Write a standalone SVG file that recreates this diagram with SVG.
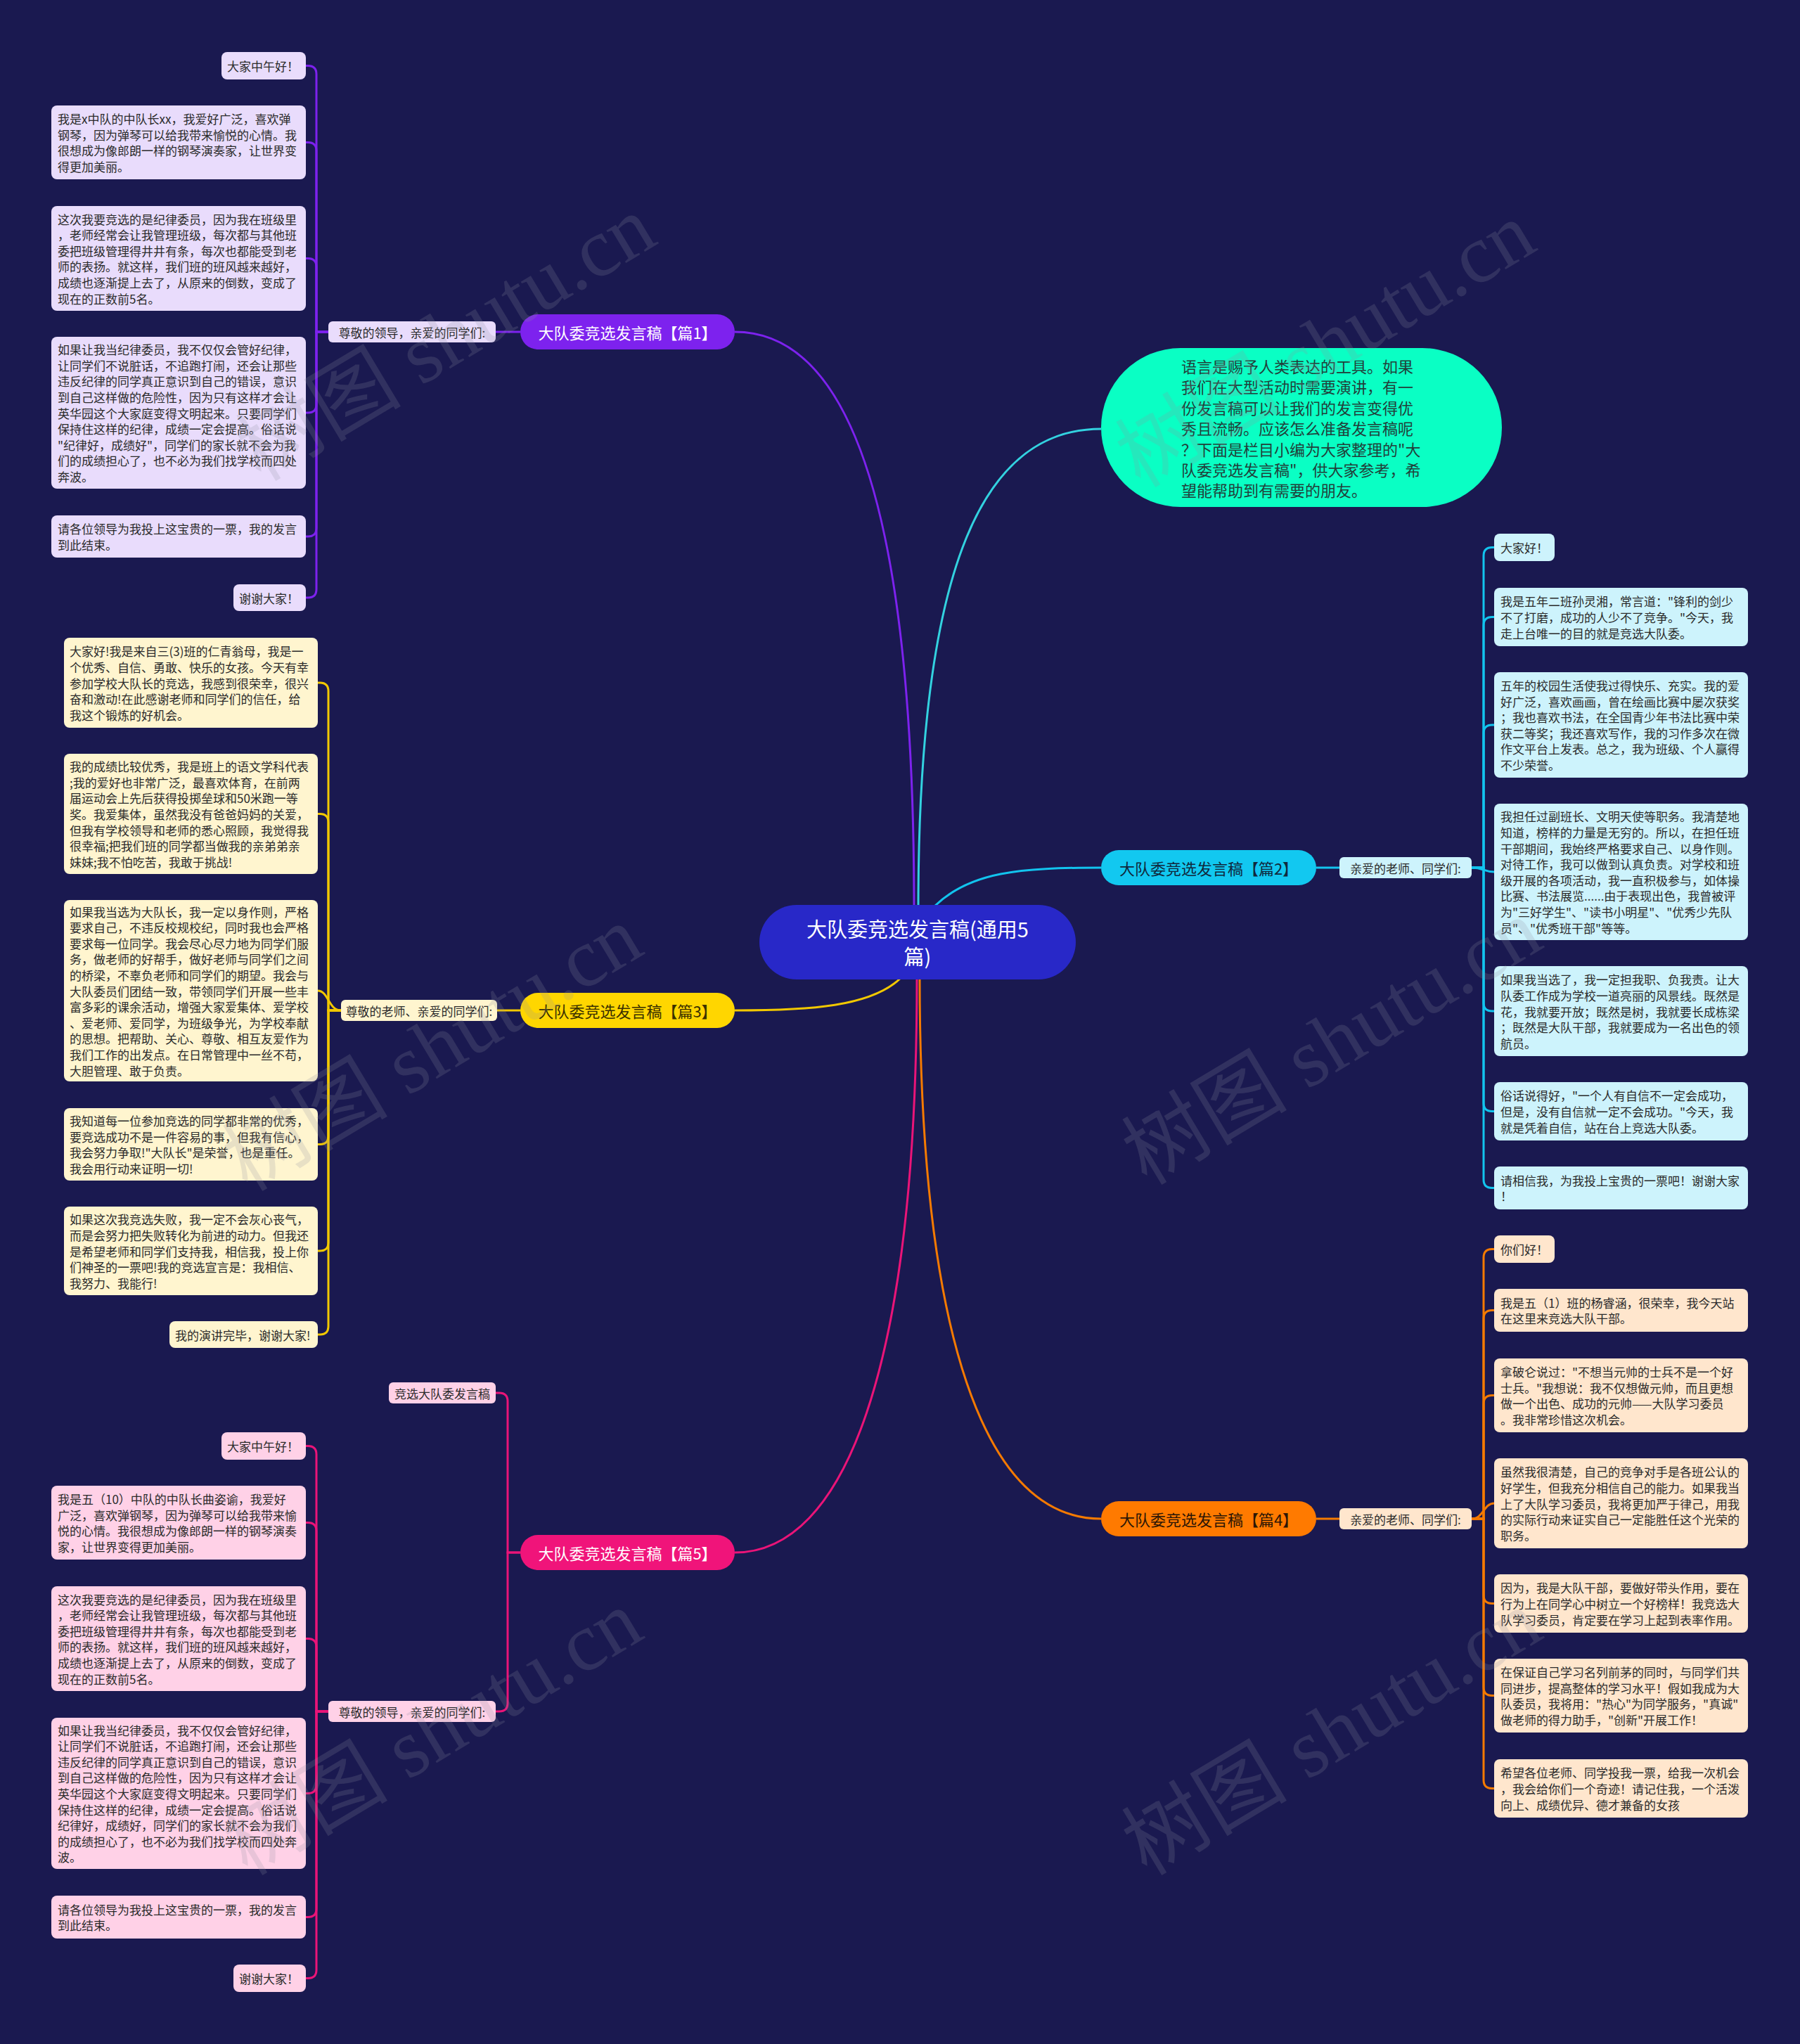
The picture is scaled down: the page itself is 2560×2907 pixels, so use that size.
<svg xmlns="http://www.w3.org/2000/svg" width="2560" height="2907" viewBox="0 0 2560 2907">
<style>
text{font-family:"Noto Sans CJK SC","Noto Sans",sans-serif}
.lt{font-size:17px;dominant-baseline:central}
.nt{font-size:22px;text-anchor:middle;dominant-baseline:central}
.lb{font-size:17px;text-anchor:middle;dominant-baseline:central}
.wm{font-family:"Liberation Serif","Noto Sans CJK SC",serif;font-size:118px;fill:#9090a0;opacity:.2}
.c{fill:none;stroke-width:3}
.cP{stroke:#7d22ee}.cY{stroke:#f2c800}.cK{stroke:#ea1478}.cC{stroke:#12c4ee}.cO{stroke:#f57a00}.cI{stroke:#33d2e0}
.fP{fill:#e9dcfc}.fY{fill:#fff5cf}.fK{fill:#ffd1e7}.fC{fill:#cdf3fc}.fO{fill:#ffe6cd}
.tx{fill:#2b2b2b}
</style>
<rect width="2560" height="2907" fill="#1a1950"/>

<g id="connectors">
<path class="c cP" d="M1300 1292 C1300 700 1200 472 1045 472"/>
<path class="c cI" d="M1306 1292 C1306 800 1400 610 1566 610"/>
<path class="c cC" d="M1330 1288 C1380 1240 1450 1234 1566 1234"/>
<path class="c cY" d="M1282 1390 C1240 1432 1150 1437 1045 1437"/>
<path class="c cO" d="M1308 1390 C1308 1900 1400 2160 1566 2160"/>
<path class="c cK" d="M1304 1390 C1304 1950 1200 2208 1045 2208"/>
<path class="c cP" d="M740 472 H705"/>
<path class="c cY" d="M740 1437 H707"/>
<path class="c cC" d="M1872 1234 H1905"/>
<path class="c cO" d="M1872 2160 H1905"/>
<path class="c cK" d="M740 2208 H722 V1993 Q722 1981 710 1981 H705"/>
<path class="c cK" d="M740 2208 H722 V2422 Q722 2434 710 2434 H705"/>
<!-- section 1 leaves -->
<path class="c cP" d="M467 472 H450 V105.5 Q450 93.5 438 93.5 H435"/>
<path class="c cP" d="M467 472 H450 V214.5 Q450 202.5 438 202.5 H435"/>
<path class="c cP" d="M467 472 H450 V379.5 Q450 367.5 438 367.5 H435"/>
<path class="c cP" d="M467 472 H450 V575 Q450 587 438 587 H435"/>
<path class="c cP" d="M467 472 H450 V751 Q450 763 438 763 H435"/>
<path class="c cP" d="M467 472 H450 V838 Q450 850 438 850 H435"/>
<!-- section 3 leaves -->
<path class="c cY" d="M485 1437 H467 V983 Q467 971 455 971 H452"/>
<path class="c cY" d="M485 1437 H467 V1169.5 Q467 1157.5 455 1157.5 H452"/>
<path class="c cY" d="M485 1437 C467 1437 467 1409 452 1409"/>
<path class="c cY" d="M485 1437 H467 V1615.5 Q467 1627.5 455 1627.5 H452"/>
<path class="c cY" d="M485 1437 H467 V1767 Q467 1779 455 1779 H452"/>
<path class="c cY" d="M485 1437 H467 V1886 Q467 1898 455 1898 H452"/>
<!-- section 5 leaves -->
<path class="c cK" d="M467 2434 H450 V2068.5 Q450 2056.5 438 2056.5 H435"/>
<path class="c cK" d="M467 2434 H450 V2177.5 Q450 2165.5 438 2165.5 H435"/>
<path class="c cK" d="M467 2434 H450 V2342.5 Q450 2330.5 438 2330.5 H435"/>
<path class="c cK" d="M467 2434 H450 V2538.5 Q450 2550.5 438 2550.5 H435"/>
<path class="c cK" d="M467 2434 H450 V2714.5 Q450 2726.5 438 2726.5 H435"/>
<path class="c cK" d="M467 2434 H450 V2801.5 Q450 2813.5 438 2813.5 H435"/>
<!-- section 2 leaves -->
<path class="c cC" d="M2093 1234 H2110 V790.5 Q2110 778.5 2122 778.5 H2125"/>
<path class="c cC" d="M2093 1234 H2110 V889.5 Q2110 877.5 2122 877.5 H2125"/>
<path class="c cC" d="M2093 1234 H2110 V1043 Q2110 1031 2122 1031 H2125"/>
<path class="c cC" d="M2093 1234 C2110 1234 2110 1240 2125 1240"/>
<path class="c cC" d="M2093 1234 H2110 V1426 Q2110 1438 2122 1438 H2125"/>
<path class="c cC" d="M2093 1234 H2110 V1568.5 Q2110 1580.5 2122 1580.5 H2125"/>
<path class="c cC" d="M2093 1234 H2110 V1677.5 Q2110 1689.5 2122 1689.5 H2125"/>
<!-- section 4 leaves -->
<path class="c cO" d="M2093 2160 H2110 V1788.5 Q2110 1776.5 2122 1776.5 H2125"/>
<path class="c cO" d="M2093 2160 H2110 V1875.5 Q2110 1863.5 2122 1863.5 H2125"/>
<path class="c cO" d="M2093 2160 H2110 V1996.5 Q2110 1984.5 2122 1984.5 H2125"/>
<path class="c cO" d="M2093 2160 C2110 2160 2110 2138 2125 2138"/>
<path class="c cO" d="M2093 2160 H2110 V2268.5 Q2110 2280.5 2122 2280.5 H2125"/>
<path class="c cO" d="M2093 2160 H2110 V2399.5 Q2110 2411.5 2122 2411.5 H2125"/>
<path class="c cO" d="M2093 2160 H2110 V2531.5 Q2110 2543.5 2122 2543.5 H2125"/>
</g>

<g id="root">
<rect x="1080" y="1287" width="450" height="106" rx="53" fill="#2828c8"/>
<text x="1305" y="1320" style="font-size:29px;text-anchor:middle;dominant-baseline:central" fill="#ffffff">大队委竞选发言稿(通用5</text>
<text x="1305" y="1359" style="font-size:29px;text-anchor:middle;dominant-baseline:central" fill="#ffffff">篇)</text>
</g>

<g id="intro">
<rect x="1566" y="495" width="570" height="226" rx="113" fill="#0affc4"/>
<g style="font-size:22px;dominant-baseline:central" fill="#21403a">
<text x="1680" y="520">语言是赐予人类表达的工具。如果</text>
<text x="1680" y="549.4">我们在大型活动时需要演讲，有一</text>
<text x="1680" y="578.8">份发言稿可以让我们的发言变得优</text>
<text x="1680" y="608.2">秀且流畅。应该怎么准备发言稿呢</text>
<text x="1680" y="637.6">？下面是栏目小编为大家整理的"大</text>
<text x="1680" y="667">队委竞选发言稿"，供大家参考，希</text>
<text x="1680" y="696.4">望能帮助到有需要的朋友。</text>
</g>
</g>

<!-- Branch nodes -->
<g id="b1"><rect x="740" y="447" width="305" height="50" rx="25" fill="#7d22ee"/><text class="nt" x="892.5" y="472" fill="#ffffff">大队委竞选发言稿【篇1】</text></g>
<g id="b2"><rect x="1566" y="1209" width="306" height="50" rx="25" fill="#12c8f0"/><text class="nt" x="1719" y="1234" fill="#10283c">大队委竞选发言稿【篇2】</text></g>
<g id="b3"><rect x="740" y="1412" width="305" height="50" rx="25" fill="#ffd600"/><text class="nt" x="892.5" y="1437" fill="#3a3000">大队委竞选发言稿【篇3】</text></g>
<g id="b4"><rect x="1566" y="2135" width="306" height="50" rx="25" fill="#ff7a00"/><text class="nt" x="1719" y="2160" fill="#2b1606">大队委竞选发言稿【篇4】</text></g>
<g id="b5"><rect x="740" y="2183" width="305" height="50" rx="25" fill="#f0147a"/><text class="nt" x="892.5" y="2208" fill="#ffffff">大队委竞选发言稿【篇5】</text></g>

<!-- Labels -->
<g id="l1"><rect class="fP" x="467" y="457" width="238" height="30" rx="6"/><text class="lb tx" x="586" y="472">尊敬的领导，亲爱的同学们:</text></g>
<g id="l3"><rect class="fY" x="485" y="1422" width="222" height="30" rx="6"/><text class="lb tx" x="596" y="1437">尊敬的老师、亲爱的同学们:</text></g>
<g id="l2"><rect class="fC" x="1905" y="1219" width="188" height="30" rx="6"/><text class="lb tx" x="1999" y="1234">亲爱的老师、同学们:</text></g>
<g id="l4"><rect class="fO" x="1905" y="2145" width="188" height="30" rx="6"/><text class="lb tx" x="1999" y="2160">亲爱的老师、同学们:</text></g>
<g id="l5a"><rect class="fK" x="553" y="1966" width="152" height="30" rx="6"/><text class="lb tx" x="629" y="1981">竞选大队委发言稿</text></g>
<g id="l5b"><rect class="fK" x="467" y="2419" width="238" height="30" rx="6"/><text class="lb tx" x="586" y="2434">尊敬的领导，亲爱的同学们:</text></g>

<!-- Section 1 leaves -->
<g id="p1-1"><rect class="fP" x="315" y="74" width="120" height="39" rx="8"/><text class="lt tx" x="323" y="93.5">大家中午好！</text></g>
<g id="p1-2"><rect class="fP" x="73" y="150" width="362" height="105" rx="8"/>
<text class="lt tx" x="82" y="168.6">我是x中队的中队长xx，我爱好广泛，喜欢弹</text>
<text class="lt tx" x="82" y="191.2">钢琴，因为弹琴可以给我带来愉悦的心情。我</text>
<text class="lt tx" x="82" y="213.8">很想成为像郎朗一样的钢琴演奏家，让世界变</text>
<text class="lt tx" x="82" y="236.4">得更加美丽。</text></g>
<g id="p1-3"><rect class="fP" x="73" y="293" width="362" height="149" rx="8"/>
<text class="lt tx" x="82" y="311">这次我要竞选的是纪律委员，因为我在班级里</text>
<text class="lt tx" x="82" y="333.6">，老师经常会让我管理班级，每次都与其他班</text>
<text class="lt tx" x="82" y="356.2">委把班级管理得井井有条，每次也都能受到老</text>
<text class="lt tx" x="82" y="378.8">师的表扬。就这样，我们班的班风越来越好，</text>
<text class="lt tx" x="82" y="401.4">成绩也逐渐提上去了，从原来的倒数，变成了</text>
<text class="lt tx" x="82" y="424">现在的正数前5名。</text></g>
<g id="p1-4"><rect class="fP" x="73" y="479" width="362" height="216" rx="8"/>
<text class="lt tx" x="82" y="496.6">如果让我当纪律委员，我不仅仅会管好纪律，</text>
<text class="lt tx" x="82" y="519.2">让同学们不说脏话，不追跑打闹，还会让那些</text>
<text class="lt tx" x="82" y="541.8">违反纪律的同学真正意识到自己的错误，意识</text>
<text class="lt tx" x="82" y="564.4">到自己这样做的危险性，因为只有这样才会让</text>
<text class="lt tx" x="82" y="587">英华园这个大家庭变得文明起来。只要同学们</text>
<text class="lt tx" x="82" y="609.6">保持住这样的纪律，成绩一定会提高。俗话说</text>
<text class="lt tx" x="82" y="632.2">"纪律好，成绩好"，同学们的家长就不会为我</text>
<text class="lt tx" x="82" y="654.8">们的成绩担心了，也不必为我们找学校而四处</text>
<text class="lt tx" x="82" y="677.4">奔波。</text></g>
<g id="p1-5"><rect class="fP" x="73" y="733" width="362" height="60" rx="8"/>
<text class="lt tx" x="82" y="751.7">请各位领导为我投上这宝贵的一票，我的发言</text>
<text class="lt tx" x="82" y="774.3">到此结束。</text></g>
<g id="p1-6"><rect class="fP" x="332" y="831" width="103" height="38" rx="8"/><text class="lt tx" x="340" y="850">谢谢大家！</text></g>

<!-- Section 3 leaves -->
<g id="p3-1"><rect class="fY" x="91" y="907" width="361" height="128" rx="8"/>
<text class="lt tx" x="99" y="925.8">大家好!我是来自三(3)班的仁青翁母，我是一</text>
<text class="lt tx" x="99" y="948.4">个优秀、自信、勇敢、快乐的女孩。今天有幸</text>
<text class="lt tx" x="99" y="971">参加学校大队长的竞选，我感到很荣幸，很兴</text>
<text class="lt tx" x="99" y="993.6">奋和激动!在此感谢老师和同学们的信任，给</text>
<text class="lt tx" x="99" y="1016.2">我这个锻炼的好机会。</text></g>
<g id="p3-2"><rect class="fY" x="91" y="1072" width="361" height="171" rx="8"/>
<text class="lt tx" x="99" y="1089.7">我的成绩比较优秀，我是班上的语文学科代表</text>
<text class="lt tx" x="99" y="1112.3">;我的爱好也非常广泛，最喜欢体育，在前两</text>
<text class="lt tx" x="99" y="1134.9">届运动会上先后获得投掷垒球和50米跑一等</text>
<text class="lt tx" x="99" y="1157.5">奖。我爱集体，虽然我没有爸爸妈妈的关爱，</text>
<text class="lt tx" x="99" y="1180.1">但我有学校领导和老师的悉心照顾，我觉得我</text>
<text class="lt tx" x="99" y="1202.7">很幸福;把我们班的同学都当做我的亲弟弟亲</text>
<text class="lt tx" x="99" y="1225.3">妹妹;我不怕吃苦，我敢于挑战!</text></g>
<g id="p3-3"><rect class="fY" x="91" y="1280" width="361" height="258" rx="8"/>
<text class="lt tx" x="99" y="1296">如果我当选为大队长，我一定以身作则，严格</text>
<text class="lt tx" x="99" y="1318.6">要求自己，不违反校规校纪，同时我也会严格</text>
<text class="lt tx" x="99" y="1341.2">要求每一位同学。我会尽心尽力地为同学们服</text>
<text class="lt tx" x="99" y="1363.8">务，做老师的好帮手，做好老师与同学们之间</text>
<text class="lt tx" x="99" y="1386.4">的桥梁，不辜负老师和同学们的期望。我会与</text>
<text class="lt tx" x="99" y="1409">大队委员们团结一致，带领同学们开展一些丰</text>
<text class="lt tx" x="99" y="1431.6">富多彩的课余活动，增强大家爱集体、爱学校</text>
<text class="lt tx" x="99" y="1454.2">、爱老师、爱同学，为班级争光，为学校奉献</text>
<text class="lt tx" x="99" y="1476.8">的思想。把帮助、关心、尊敬、相互友爱作为</text>
<text class="lt tx" x="99" y="1499.4">我们工作的出发点。在日常管理中一丝不苟，</text>
<text class="lt tx" x="99" y="1522">大胆管理、敢于负责。</text></g>
<g id="p3-4"><rect class="fY" x="91" y="1576" width="361" height="103" rx="8"/>
<text class="lt tx" x="99" y="1593.6">我知道每一位参加竞选的同学都非常的优秀，</text>
<text class="lt tx" x="99" y="1616.2">要竞选成功不是一件容易的事，但我有信心，</text>
<text class="lt tx" x="99" y="1638.8">我会努力争取!"大队长"是荣誉，也是重任。</text>
<text class="lt tx" x="99" y="1661.4">我会用行动来证明一切!</text></g>
<g id="p3-5"><rect class="fY" x="91" y="1716" width="361" height="126" rx="8"/>
<text class="lt tx" x="99" y="1733.8">如果这次我竞选失败，我一定不会灰心丧气，</text>
<text class="lt tx" x="99" y="1756.4">而是会努力把失败转化为前进的动力。但我还</text>
<text class="lt tx" x="99" y="1779">是希望老师和同学们支持我，相信我，投上你</text>
<text class="lt tx" x="99" y="1801.6">们神圣的一票吧!我的竞选宣言是：我相信、</text>
<text class="lt tx" x="99" y="1824.2">我努力、我能行!</text></g>
<g id="p3-6"><rect class="fY" x="241" y="1879" width="211" height="38" rx="8"/><text class="lt tx" x="249" y="1898">我的演讲完毕，谢谢大家!</text></g>

<!-- Section 5 leaves -->
<g id="p5-1"><rect class="fK" x="315" y="2037" width="120" height="39" rx="8"/><text class="lt tx" x="323" y="2056.5">大家中午好！</text></g>
<g id="p5-2"><rect class="fK" x="73" y="2113" width="362" height="105" rx="8"/>
<text class="lt tx" x="82" y="2131.6">我是五（10）中队的中队长曲姿谕，我爱好</text>
<text class="lt tx" x="82" y="2154.2">广泛，喜欢弹钢琴，因为弹琴可以给我带来愉</text>
<text class="lt tx" x="82" y="2176.8">悦的心情。我很想成为像郎朗一样的钢琴演奏</text>
<text class="lt tx" x="82" y="2199.4">家，让世界变得更加美丽。</text></g>
<g id="p5-3"><rect class="fK" x="73" y="2256" width="362" height="149" rx="8"/>
<text class="lt tx" x="82" y="2274">这次我要竞选的是纪律委员，因为我在班级里</text>
<text class="lt tx" x="82" y="2296.6">，老师经常会让我管理班级，每次都与其他班</text>
<text class="lt tx" x="82" y="2319.2">委把班级管理得井井有条，每次也都能受到老</text>
<text class="lt tx" x="82" y="2341.8">师的表扬。就这样，我们班的班风越来越好，</text>
<text class="lt tx" x="82" y="2364.4">成绩也逐渐提上去了，从原来的倒数，变成了</text>
<text class="lt tx" x="82" y="2387">现在的正数前5名。</text></g>
<g id="p5-4"><rect class="fK" x="73" y="2443" width="362" height="215" rx="8"/>
<text class="lt tx" x="82" y="2460.1">如果让我当纪律委员，我不仅仅会管好纪律，</text>
<text class="lt tx" x="82" y="2482.7">让同学们不说脏话，不追跑打闹，还会让那些</text>
<text class="lt tx" x="82" y="2505.3">违反纪律的同学真正意识到自己的错误，意识</text>
<text class="lt tx" x="82" y="2527.9">到自己这样做的危险性，因为只有这样才会让</text>
<text class="lt tx" x="82" y="2550.5">英华园这个大家庭变得文明起来。只要同学们</text>
<text class="lt tx" x="82" y="2573.1">保持住这样的纪律，成绩一定会提高。俗话说</text>
<text class="lt tx" x="82" y="2595.7">纪律好，成绩好，同学们的家长就不会为我们</text>
<text class="lt tx" x="82" y="2618.3">的成绩担心了，也不必为我们找学校而四处奔</text>
<text class="lt tx" x="82" y="2640.9">波。</text></g>
<g id="p5-5"><rect class="fK" x="73" y="2696" width="362" height="61" rx="8"/>
<text class="lt tx" x="82" y="2715.2">请各位领导为我投上这宝贵的一票，我的发言</text>
<text class="lt tx" x="82" y="2737.8">到此结束。</text></g>
<g id="p5-6"><rect class="fK" x="332" y="2794" width="103" height="39" rx="8"/><text class="lt tx" x="340" y="2813.5">谢谢大家！</text></g>

<!-- Section 2 leaves -->
<g id="p2-1"><rect class="fC" x="2125" y="759" width="86" height="39" rx="8"/><text class="lt tx" x="2134" y="778.5">大家好！</text></g>
<g id="p2-2"><rect class="fC" x="2125" y="836" width="361" height="83" rx="8"/>
<text class="lt tx" x="2134" y="854.9">我是五年二班孙灵湘，常言道："锋利的剑少</text>
<text class="lt tx" x="2134" y="877.5">不了打磨，成功的人少不了竞争。"今天，我</text>
<text class="lt tx" x="2134" y="900.1">走上台唯一的目的就是竞选大队委。</text></g>
<g id="p2-3"><rect class="fC" x="2125" y="956" width="361" height="150" rx="8"/>
<text class="lt tx" x="2134" y="974.5">五年的校园生活使我过得快乐、充实。我的爱</text>
<text class="lt tx" x="2134" y="997.1">好广泛，喜欢画画，曾在绘画比赛中屡次获奖</text>
<text class="lt tx" x="2134" y="1019.7">；我也喜欢书法，在全国青少年书法比赛中荣</text>
<text class="lt tx" x="2134" y="1042.3">获二等奖；我还喜欢写作，我的习作多次在微</text>
<text class="lt tx" x="2134" y="1064.9">作文平台上发表。总之，我为班级、个人赢得</text>
<text class="lt tx" x="2134" y="1087.5">不少荣誉。</text></g>
<g id="p2-4"><rect class="fC" x="2125" y="1143" width="361" height="194" rx="8"/>
<text class="lt tx" x="2134" y="1160.9">我担任过副班长、文明天使等职务。我清楚地</text>
<text class="lt tx" x="2134" y="1183.5">知道，榜样的力量是无穷的。所以，在担任班</text>
<text class="lt tx" x="2134" y="1206.1">干部期间，我始终严格要求自己、以身作则。</text>
<text class="lt tx" x="2134" y="1228.7">对待工作，我可以做到认真负责。对学校和班</text>
<text class="lt tx" x="2134" y="1251.3">级开展的各项活动，我一直积极参与，如体操</text>
<text class="lt tx" x="2134" y="1273.9">比赛、书法展览......由于表现出色，我曾被评</text>
<text class="lt tx" x="2134" y="1296.5">为"三好学生"、"读书小明星"、"优秀少先队</text>
<text class="lt tx" x="2134" y="1319.1">员"、"优秀班干部"等等。</text></g>
<g id="p2-5"><rect class="fC" x="2125" y="1374" width="361" height="128" rx="8"/>
<text class="lt tx" x="2134" y="1392.8">如果我当选了，我一定担我职、负我责。让大</text>
<text class="lt tx" x="2134" y="1415.4">队委工作成为学校一道亮丽的风景线。既然是</text>
<text class="lt tx" x="2134" y="1438">花，我就要开放；既然是树，我就要长成栋梁</text>
<text class="lt tx" x="2134" y="1460.6">；既然是大队干部，我就要成为一名出色的领</text>
<text class="lt tx" x="2134" y="1483.2">航员。</text></g>
<g id="p2-6"><rect class="fC" x="2125" y="1539" width="361" height="83" rx="8"/>
<text class="lt tx" x="2134" y="1557.9">俗话说得好，"一个人有自信不一定会成功，</text>
<text class="lt tx" x="2134" y="1580.5">但是，没有自信就一定不会成功。"今天，我</text>
<text class="lt tx" x="2134" y="1603.1">就是凭着自信，站在台上竞选大队委。</text></g>
<g id="p2-7"><rect class="fC" x="2125" y="1659" width="361" height="61" rx="8"/>
<text class="lt tx" x="2134" y="1678.2">请相信我，为我投上宝贵的一票吧！谢谢大家</text>
<text class="lt tx" x="2134" y="1700.8">！</text></g>

<!-- Section 4 leaves -->
<g id="p4-1"><rect class="fO" x="2125" y="1757" width="86" height="39" rx="8"/><text class="lt tx" x="2134" y="1776.5">你们好！</text></g>
<g id="p4-2"><rect class="fO" x="2125" y="1833" width="361" height="61" rx="8"/>
<text class="lt tx" x="2134" y="1852.2">我是五（1）班的杨睿涵，很荣幸，我今天站</text>
<text class="lt tx" x="2134" y="1874.8">在这里来竞选大队干部。</text></g>
<g id="p4-3"><rect class="fO" x="2125" y="1932" width="361" height="105" rx="8"/>
<text class="lt tx" x="2134" y="1950.6">拿破仑说过："不想当元帅的士兵不是一个好</text>
<text class="lt tx" x="2134" y="1973.2">士兵。"我想说：我不仅想做元帅，而且更想</text>
<text class="lt tx" x="2134" y="1995.8">做一个出色、成功的元帅——大队学习委员</text>
<text class="lt tx" x="2134" y="2018.4">。我非常珍惜这次机会。</text></g>
<g id="p4-4"><rect class="fO" x="2125" y="2074" width="361" height="128" rx="8"/>
<text class="lt tx" x="2134" y="2092.8">虽然我很清楚，自己的竞争对手是各班公认的</text>
<text class="lt tx" x="2134" y="2115.4">好学生，但我充分相信自己的能力。如果我当</text>
<text class="lt tx" x="2134" y="2138">上了大队学习委员，我将更加严于律己，用我</text>
<text class="lt tx" x="2134" y="2160.6">的实际行动来证实自己一定能胜任这个光荣的</text>
<text class="lt tx" x="2134" y="2183.2">职务。</text></g>
<g id="p4-5"><rect class="fO" x="2125" y="2239" width="361" height="83" rx="8"/>
<text class="lt tx" x="2134" y="2257.9">因为，我是大队干部，要做好带头作用，要在</text>
<text class="lt tx" x="2134" y="2280.5">行为上在同学心中树立一个好榜样！我竞选大</text>
<text class="lt tx" x="2134" y="2303.1">队学习委员，肯定要在学习上起到表率作用。</text></g>
<g id="p4-6"><rect class="fO" x="2125" y="2359" width="361" height="105" rx="8"/>
<text class="lt tx" x="2134" y="2377.6">在保证自己学习名列前茅的同时，与同学们共</text>
<text class="lt tx" x="2134" y="2400.2">同进步，提高整体的学习水平！假如我成为大</text>
<text class="lt tx" x="2134" y="2422.8">队委员，我将用："热心"为同学服务，"真诚"</text>
<text class="lt tx" x="2134" y="2445.4">做老师的得力助手，"创新"开展工作！</text></g>
<g id="p4-7"><rect class="fO" x="2125" y="2502" width="361" height="83" rx="8"/>
<text class="lt tx" x="2134" y="2520.9">希望各位老师、同学投我一票，给我一次机会</text>
<text class="lt tx" x="2134" y="2543.5">，我会给你们一个奇迹！请记住我，一个活泼</text>
<text class="lt tx" x="2134" y="2566.1">向上、成绩优异、德才兼备的女孩</text></g>

<g id="watermarks">
<text class="wm" transform="translate(371 686) rotate(-31)">树图 shutu.cn</text>
<text class="wm" transform="translate(1622 695) rotate(-31)">树图 shutu.cn</text>
<text class="wm" transform="translate(352 1696) rotate(-31)">树图 shutu.cn</text>
<text class="wm" transform="translate(1631 1687) rotate(-31)">树图 shutu.cn</text>
<text class="wm" transform="translate(352 2669) rotate(-31)">树图 shutu.cn</text>
<text class="wm" transform="translate(1631 2669) rotate(-31)">树图 shutu.cn</text>
</g>
</svg>
